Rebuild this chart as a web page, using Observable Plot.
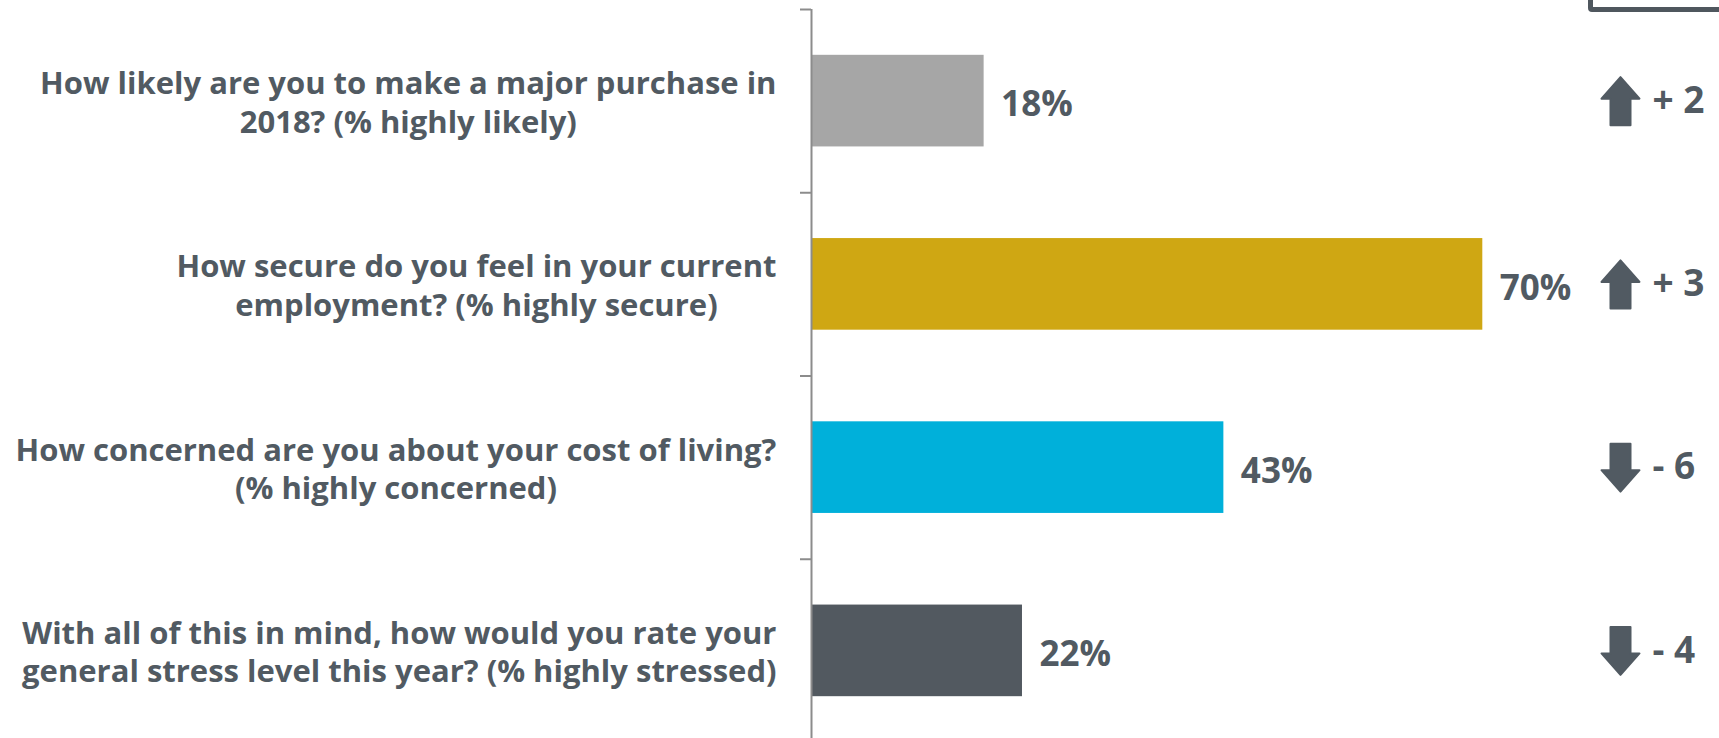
<!DOCTYPE html>
<html><head><meta charset="utf-8">
<script src="https://cdn.jsdelivr.net/npm/d3@7"></script>
<script src="https://cdn.jsdelivr.net/npm/@observablehq/plot@0.6"></script>
<style>
body{margin:0;background:#fff;}
#wrap{position:relative;width:1719px;height:738px;overflow:hidden;background:#fff;}
#box{position:absolute;left:1588px;top:-30px;width:200px;height:32px;border:5px solid #4f575e;border-radius:4px;}
</style></head><body><div id="wrap"><div id="box"></div></div>
<script>
const questions = [
  "How likely are you to make a major purchase in\n2018? (% highly likely)",
  "How secure do you feel in your current\nemployment? (% highly secure)",
  "How concerned are you about your cost of living?\n(% highly concerned)",
  "With all of this in mind, how would you rate your\ngeneral stress level this year? (% highly stressed)"
];
const values = [18, 70, 43, 22];
const changes = [2, 3, -6, -4];
const changeLabels = ["+ 2", "+ 3", "- 6", "- 4"];
const colors = ["#a6a6a6", "#cfa713", "#00b0da", "#525960"];

const TEXT = "#515a62";
const rows = questions.map((q, i) => ({i, q, value: values[i], change: changes[i], changeLabel: changeLabels[i], color: colors[i]}));

function arrowSymbol(dir) {
  return {
    draw(ctx, size) {
      const r = Math.sqrt(size / Math.PI), k = r / 24;
      const pts = [[0,-24],[19,-2.5],[10,-2.5],[10,24],[-10,24],[-10,-2.5],[-19,-2.5]];
      pts.forEach(([x, y], j) => { const X = x * k, Y = y * k * dir; j ? ctx.lineTo(X, Y) : ctx.moveTo(X, Y); });
      ctx.closePath();
    }
  };
}

const chart = Plot.plot({
  width: 1719, height: 738,
  marginLeft: 811, marginRight: 0, marginTop: 9, marginBottom: 0,
  x: {domain: [0, 100], range: [811, 1770], axis: null},
  y: {domain: [0, 4], range: [9, 742]},
  style: {fontFamily: "'Open Sans', sans-serif", background: "transparent", overflow: "visible"},
  marks: [
    Plot.rect(rows, {x1: 0, x2: "value", y1: d => d.i + 0.25, y2: d => d.i + 0.75, fill: "color"}),
    Plot.ruleX([0], {stroke: "#8c8c8c", strokeWidth: 2}),
    Plot.axisY({ticks: [0, 1, 2, 3, 4], tickSize: 11, tickFormat: () => "", label: null, stroke: "#8c8c8c", strokeWidth: 2}),
    Plot.text(rows, {y: d => d.i + 0.5, text: "q", frameAnchor: "left", textAnchor: "middle",
      fontSize: 31, fontWeight: "bold", fill: TEXT, lineHeight: 1.24, className: "qlabels"}),
    Plot.text(rows, {x: "value", y: d => d.i + 0.5, text: d => d.value + "%", textAnchor: "start", dx: 17, dy: 4,
      fontSize: 35, fontWeight: "bold", fill: TEXT}),
    Plot.dot(rows.filter(d => d.change > 0), {y: d => d.i + 0.5, frameAnchor: "right", dx: -99, r: 24,
      symbol: arrowSymbol(1), fill: TEXT, stroke: TEXT, strokeWidth: 2, strokeLinejoin: "round"}),
    Plot.dot(rows.filter(d => d.change < 0), {y: d => d.i + 0.5, frameAnchor: "right", dx: -99, r: 24,
      symbol: arrowSymbol(-1), fill: TEXT, stroke: TEXT, strokeWidth: 2, strokeLinejoin: "round"}),
    Plot.text(rows, {y: d => d.i + 0.5, text: "changeLabel", frameAnchor: "right", dx: -67, textAnchor: "start",
      fontSize: 37, fontWeight: "bold", fill: TEXT})
  ]
});
document.getElementById("wrap").prepend(chart);
// center each multi-line label block, with its widest line ending 35px left of the axis
d3.select(chart).selectAll("g.qlabels text").each(function () {
  const w = this.getBBox().width;
  const t = this.getAttribute("transform") || "";
  this.setAttribute("transform", t + ` translate(${-35 - w / 2},0)`);
});
</script>
</body></html>
